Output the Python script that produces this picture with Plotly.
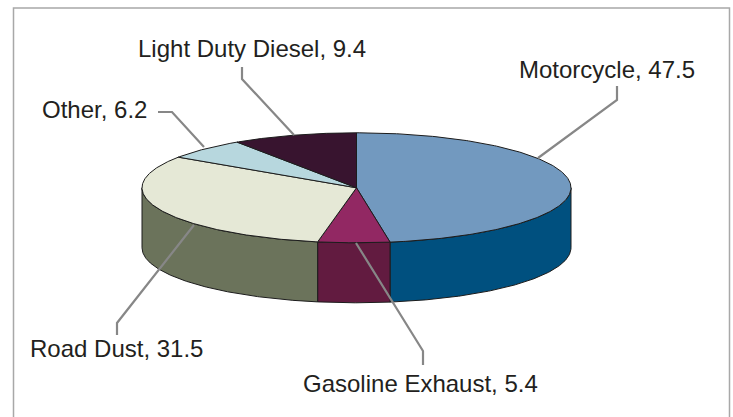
import numpy as np
import plotly.graph_objects as go

categories = ["Motorcycle", "Gasoline Exhaust", "Road Dust", "Other", "Light Duty Diesel"]
values = [47.5, 5.4, 31.5, 6.2, 9.4]

top_colors = ["#7299bf", "#922863", "#e5e8d6", "#b7d7de", "#38142f"]
side_colors = ["#00507f", "#621b40", "#6b735b", "#8a9fa4", "#26101f"]
label_centers = [(607, 69), (420.5, 383), (116, 348), (94, 109), (252, 48)]
leaders = [
    ([538, 617, 617], [158, 100, 86]),
    ([356, 423, 423], [243, 351, 365]),
    ([194, 117, 117], [225, 323, 335]),
    ([204, 172, 158], [147, 112, 112]),
    ([294, 242, 242], [135, 79, 67]),
]

CX, CY, RX, RY, DEPTH = 356.5, 187.8, 214.5, 55.0, 60.0
EDGE = "#1c1c1c"


def point(theta, dy=0.0):
    return CX + RX * np.sin(theta), CY - RY * np.cos(theta) + dy


fig = go.Figure()
total = sum(values)
edges = np.cumsum([0.0] + values) / total * 2 * np.pi

# Side walls (only the part facing the viewer: 90deg..270deg)
for i in range(len(values)):
    a = max(edges[i], np.pi / 2)
    b = min(edges[i + 1], 3 * np.pi / 2)
    if b <= a:
        continue
    t = np.linspace(a, b, 160)
    tx, ty = point(t)
    bx, by = point(t[::-1], DEPTH)
    fig.add_trace(go.Scatter(
        x=np.r_[tx, bx, tx[0]], y=np.r_[ty, by, ty[0]], mode="lines",
        fill="toself", fillcolor=side_colors[i],
        line=dict(color=EDGE, width=1), hoverinfo="skip", showlegend=False))

# Top faces
for i in range(len(values)):
    t = np.linspace(edges[i], edges[i + 1], 240)
    tx, ty = point(t)
    fig.add_trace(go.Scatter(
        x=np.r_[CX, tx, CX], y=np.r_[CY, ty, CY], mode="lines",
        fill="toself", fillcolor=top_colors[i],
        line=dict(color=EDGE, width=1), hoverinfo="skip", showlegend=False))

# Leader lines
for lx, ly in leaders:
    fig.add_trace(go.Scatter(
        x=lx, y=ly, mode="lines", line=dict(color="#878787", width=2.2),
        hoverinfo="skip", showlegend=False))

for name, val, (lx, ly) in zip(categories, values, label_centers):
    fig.add_annotation(x=lx, y=ly, xref="x", yref="y", text=f"{name}, {val}",
                       showarrow=False, xanchor="center", yanchor="middle",
                       font=dict(family="Liberation Sans", size=24, color="#231f20"))

# Chart frame, open at the bottom edge of the picture
fig.add_trace(go.Scatter(
    x=[13.5, 13.5, 729.5, 729.5], y=[417, 8, 8, 417], mode="lines",
    line=dict(color="#a8a8a8", width=1.5), hoverinfo="skip", showlegend=False))

fig.update_layout(
    width=733, height=417, margin=dict(l=0, r=0, t=0, b=0),
    paper_bgcolor="white", plot_bgcolor="white", showlegend=False,
    xaxis=dict(range=[0, 733], visible=False, fixedrange=True),
    yaxis=dict(range=[417, 0], visible=False, fixedrange=True),
)
fig.write_html("out.html", config={"displayModeBar": False},
               post_script="document.body.style.margin='0';document.body.style.overflow='hidden';")
